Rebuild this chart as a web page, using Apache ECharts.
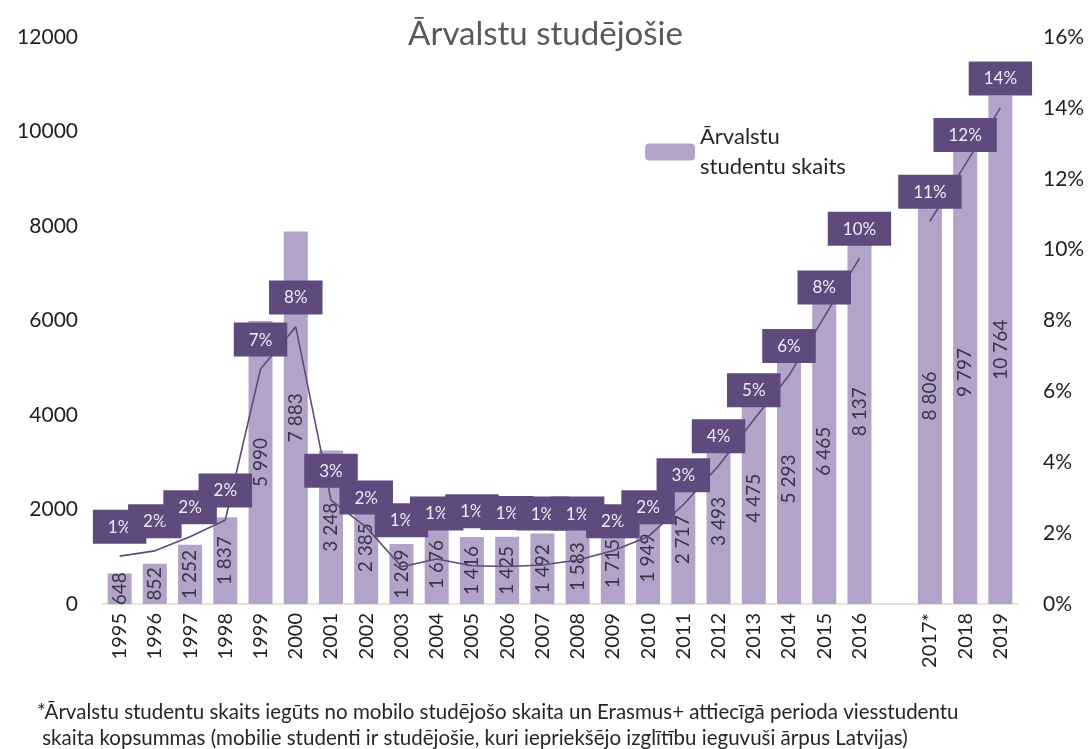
<!DOCTYPE html>
<html>
<head>
<meta charset="utf-8">
<script src="https://cdn.jsdelivr.net/npm/echarts@6/dist/echarts.min.js"></script>
<style>
  html, body { margin: 0; padding: 0; background: #fff; }
  #chart { width: 1091px; height: 749px; }
</style>
</head>
<body>
<div id="chart"></div>
<script>
// gads '' = tukša vieta starp 2016 un 2017*
const years = ['1995', '1996', '1997', '1998', '1999', '2000', '2001', '2002', '2003', '2004',
  '2005', '2006', '2007', '2008', '2009', '2010', '2011', '2012', '2013', '2014', '2015', '2016',
  '', '2017*', '2018', '2019']
const students = [648, 852, 1252, 1837, 5990, 7883, 3248, 2385, 1269, 1676,
  1416, 1425, 1492, 1583, 1715, 1949, 2717, 3493, 4475, 5293, 6465, 8137,
  null, 8806, 9797, 10764]
// daļa no visiem studējošajiem, %
const share = [1.35, 1.5, 1.9, 2.37, 6.63, 7.82, 2.93, 2.17, 1.05, 1.27,
  1.08, 1.06, 1.1, 1.24, 1.5, 1.9, 2.8, 3.9, 5.2, 6.45, 8.1, 9.76,
  null, 10.8, 12.4, 14]

// etiķetes, kas oriģinālā pārvietotas augstāk (px)
const labelLift = { '2003': 17, '2004': 16, '2005': 25, '2006': 24, '2007': 22, '2008': 17 }

const chart = echarts.init(document.getElementById('chart'))
const font = 'Lato, "Open Sans", sans-serif'
const dark = '#5e4a7c'

const lineData = share.map((v, i) => {
  const lift = labelLift[years[i]]
  return lift ? { value: v, label: { offset: [0, -lift] } } : v
})

chart.setOption({
  textStyle: { fontFamily: font },
  animation: false,
  title: {
    text: 'Ārvalstu studējošie',
    left: 'center',
    top: 13,
    textStyle: { fontSize: 33, fontWeight: 'normal', color: '#595959', fontFamily: font }
  },
  legend: {
    data: ['Ārvalstu\nstudentu skaits'],
    left: 640,
    top: 117,
    itemWidth: 50,
    itemHeight: 17,
    itemGap: 6,
    textStyle: { fontSize: 22, color: '#262626', lineHeight: 30, fontFamily: font }
  },
  grid: { left: 102, right: 73, top: 37, bottom: 145 },
  xAxis: {
    type: 'category',
    data: years,
    axisTick: { show: false },
    axisLine: { lineStyle: { color: '#d9d9d9', width: 1.5 } },
    axisLabel: { interval: 0, rotate: 90, fontSize: 20, color: '#1f1f1f', margin: 9, fontFamily: font }
  },
  yAxis: [
    {
      type: 'value',
      min: 0, max: 12000, interval: 2000,
      splitLine: { show: false },
      axisLabel: { fontSize: 21, color: '#1f1f1f', margin: 24, fontFamily: font, formatter: v => String(v) }
    },
    {
      type: 'value',
      min: 0, max: 16, interval: 2,
      splitLine: { show: false },
      axisLabel: { fontSize: 21, color: '#1f1f1f', margin: 25, formatter: '{value}%', fontFamily: font }
    }
  ],
  series: [
    {
      name: 'Ārvalstu\nstudentu skaits',
      type: 'bar',
      data: students,
      barWidth: 24,
      itemStyle: { color: '#b4a3c9' },
      label: {
        show: true,
        position: 'inside',
        rotate: 90,
        fontSize: 19,
        color: '#3b3346',
        fontFamily: font,
        formatter: p => String(p.value).replace(/\B(?=(\d{3})+(?!\d))/g, ' ')
      }
    },
    {
      name: 'Daļa',
      type: 'line',
      yAxisIndex: 1,
      data: lineData,
      smooth: false,
      connectNulls: false,
      symbol: 'circle',
      symbolSize: 1,
      showSymbol: true,
      showAllSymbol: true,
      itemStyle: { color: 'rgba(0,0,0,0)' },
      lineStyle: { color: dark, width: 1.6 },
      z: 3,
      label: {
        show: true,
        position: 'top',
        distance: 12,
        backgroundColor: dark,
        padding: [9, 15, 8, 15],
        fontSize: 17,
        color: '#efe9f5',
        fontFamily: font,
        formatter: p => Math.round(p.value) + '%'
      }
    }
  ],
  graphic: [
    {
      type: 'text',
      left: 37,
      top: 699,
      style: {
        text: '*Ārvalstu studentu skaits iegūts no mobilo studējošo skaita un Erasmus+ attiecīgā perioda viesstudentu\n skaita kopsummas (mobilie studenti ir studējošie, kuri iepriekšējo izglītību ieguvuši ārpus Latvijas)',
        fontSize: 20.5,
        lineHeight: 26,
        fill: '#262626',
        fontFamily: font
      }
    }
  ]
})
</script>
</body>
</html>
